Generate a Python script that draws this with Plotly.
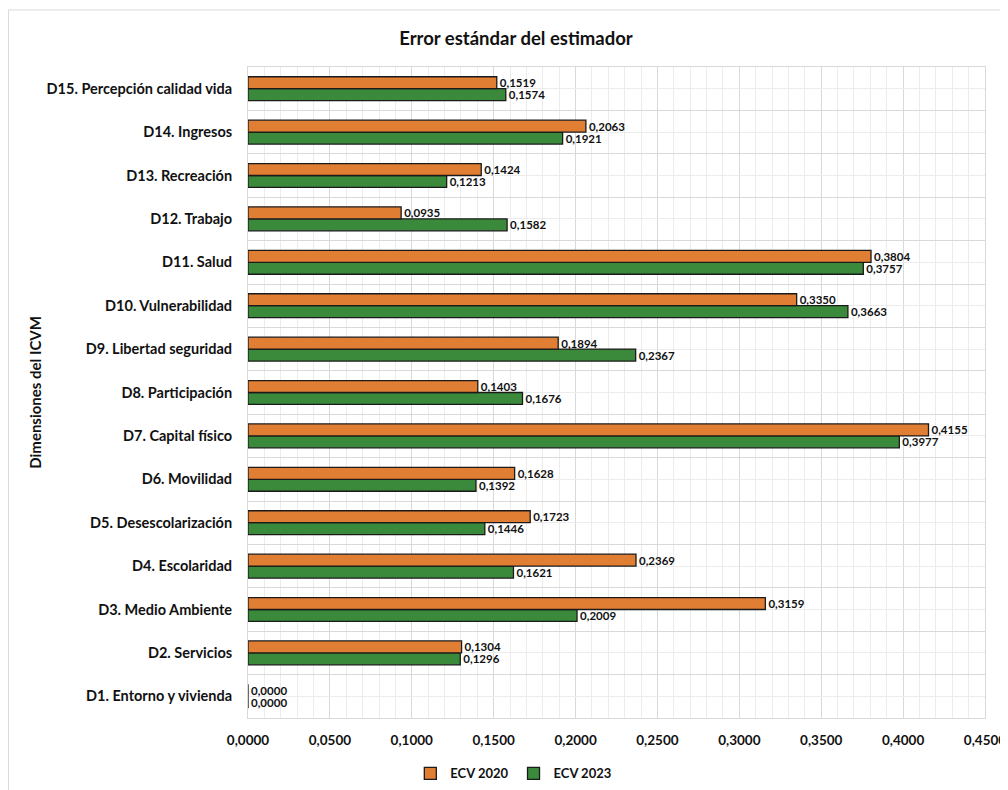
import plotly.graph_objects as go

categories = [
    "D1. Entorno y vivienda", "D2. Servicios", "D3. Medio Ambiente", "D4. Escolaridad",
    "D5. Desescolarización", "D6. Movilidad", "D7. Capital físico", "D8. Participación",
    "D9. Libertad seguridad", "D10. Vulnerabilidad", "D11. Salud", "D12. Trabajo",
    "D13. Recreación", "D14. Ingresos", "D15. Percepción calidad vida",
]
ecv_2020 = [0.0000, 0.1304, 0.3159, 0.2369, 0.1723, 0.1628, 0.4155, 0.1403,
            0.1894, 0.3350, 0.3804, 0.0935, 0.1424, 0.2063, 0.1519]
ecv_2023 = [0.0000, 0.1296, 0.2009, 0.1621, 0.1446, 0.1392, 0.3977, 0.1676,
            0.2367, 0.3663, 0.3757, 0.1582, 0.1213, 0.1921, 0.1574]
x_ticks = [0.0, 0.05, 0.10, 0.15, 0.20, 0.25, 0.30, 0.35, 0.40, 0.45]

FONT = "Lato, 'Open Sans', sans-serif"
pos = list(range(len(categories)))

fig = go.Figure()
fig.add_trace(go.Bar(
    y=pos, x=ecv_2023, orientation="h", name="ECV 2023",
    marker=dict(color="#3B8A3B", line=dict(color="#1a1a1a", width=1.3)),
    texttemplate="%{x:.4f}", textposition="outside", cliponaxis=False,
    constraintext="none",
    textfont=dict(size=11.5, color="#111", family=FONT, weight="bold"),
    legendrank=2,
))
fig.add_trace(go.Bar(
    y=pos, x=ecv_2020, orientation="h", name="ECV 2020",
    marker=dict(color="#E07E33", line=dict(color="#1a1a1a", width=1.3)),
    texttemplate="%{x:.4f}", textposition="outside", cliponaxis=False,
    constraintext="none",
    textfont=dict(size=11.5, color="#111", family=FONT, weight="bold"),
    legendrank=1,
))

fig.update_layout(
    width=1000, height=782,
    margin=dict(l=240, r=23, t=59, b=72, autoexpand=False),
    paper_bgcolor="white", plot_bgcolor="white",
    separators=",.",
    barmode="group", bargap=0.45, bargroupgap=0,
    font=dict(family=FONT, color="#111"),
    title=dict(text="Error estándar del estimador", x=0.508, xanchor="center",
               y=0.9616, yanchor="middle",
               font=dict(size=18.5, family=FONT, color="#111", weight="bold")),
    showlegend=True,
    legend=dict(orientation="h", x=0.36, xanchor="center", y=-0.085, yanchor="middle",
                font=dict(size=13, family=FONT, color="#111", weight="bold"),
                itemwidth=30, tracegroupgap=0),
    xaxis=dict(range=[0, 0.45], tickvals=x_ticks, tickformat=".4f", automargin=False,
               showgrid=True, gridcolor="#d9d9d9", gridwidth=1,
               minor=dict(dtick=0.01, showgrid=True, gridcolor="#ececec", gridwidth=1),
               zeroline=False, showline=True, linecolor="#d9d9d9", mirror=True,
               ticks="", ticklabelstandoff=10,
               tickfont=dict(size=13.5, family=FONT, color="#111", weight="bold")),
    yaxis=dict(range=[-0.5, len(categories) - 0.5], tickvals=pos, ticktext=categories,
               automargin=False,
               showgrid=True, gridcolor="#ececec", gridwidth=1,
               minor=dict(tickmode="array", tickvals=[p + 0.5 for p in pos[:-1]],
                          showgrid=True, gridcolor="#d9d9d9", gridwidth=1),
               zeroline=False, showline=True, linecolor="#d9d9d9", mirror=True,
               ticks="", ticklabelstandoff=12,
               tickfont=dict(size=14.5, family=FONT, color="#111", weight="bold")),
)

fig.add_annotation(text="Dimensiones del ICVM", xref="paper", yref="paper",
                   x=-0.29, y=0.5, textangle=-90, showarrow=False,
                   xanchor="center", yanchor="middle",
                   font=dict(size=15, family=FONT, color="#111", weight="bold"))

fig.add_shape(type="rect", xref="paper", yref="paper",
              x0=-0.325, x1=1.2, y0=-0.2, y1=1.0876,
              line=dict(color="#d9d9d9", width=1), layer="below")

fig.write_html("out.html")
